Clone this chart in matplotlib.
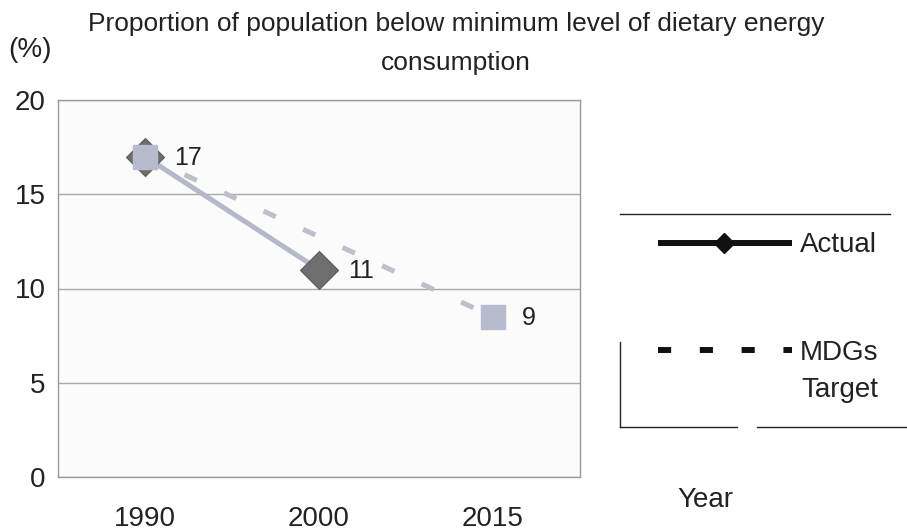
import matplotlib
matplotlib.use("Agg")
import matplotlib.pyplot as plt
from matplotlib.lines import Line2D

# Proportion of population below minimum level of dietary energy consumption (%)
years = ["1990", "2000", "2015"]
actual_years = ["1990", "2000"]
actual_vals = [17, 11]
target_years = ["1990", "2015"]
target_vals = [17, 8.5]

plt.rcParams["font.family"] = ["Liberation Sans", "DejaVu Sans"]

W, H = 907, 532
fig = plt.figure(figsize=(W / 100, H / 100), dpi=100)
fig.patch.set_facecolor("white")


def fx(px):
    return px / W


def fy(py):
    return 1 - py / H


ax = fig.add_axes([fx(58), fy(477), fx(580) - fx(58), fy(100) - fy(477)])
ax.set_facecolor("#fbfbfb")

xa = [years.index(y) for y in actual_years]
xt = [years.index(y) for y in target_years]

# actual series: light line, dark diamonds
ax.plot(xa, actual_vals, color="#b4b8c9", lw=3.6, solid_capstyle="butt", zorder=3)
ax.plot(xa, actual_vals, ls="none", marker="D", ms=19, mfc="#6e6e6e", mec="#5a5a5a",
        mew=0.8, zorder=4)

# MDGs target: dashed line with square markers
ax.plot(xt, target_vals, color="#bdbfc9", lw=3.6, dashes=(2.7, 6), zorder=3)
ax.plot(xt, target_vals, ls="none", marker="s", ms=17.5, mfc="#b7bbcd", mec="#b7bbcd",
        zorder=5)

for x, v in zip(xa, actual_vals):
    ax.annotate(f"{int(v + 0.5)}", (x, v), xytext=(21, -1), textcoords="offset points",
                ha="left", va="center", fontsize=18, color="#222222", zorder=6)
ax.annotate(f"{int(target_vals[-1] + 0.5)}", (xt[-1], target_vals[-1]), xytext=(21, -1),
            textcoords="offset points", ha="left", va="center", fontsize=18,
            color="#222222", zorder=6)

ax.set_xlim(-0.5, 2.5)
ax.set_ylim(0, 20)
ax.set_xticks(range(len(years)))
ax.set_xticklabels(years)
ax.set_yticks([0, 5, 10, 15, 20])
ax.tick_params(axis="both", length=0, labelsize=20, colors="#222222")
ax.tick_params(axis="x", pad=21)
ax.tick_params(axis="y", pad=9)
ax.yaxis.grid(True, color="#a9a9a9", lw=1)
ax.set_axisbelow(True)
for s in ax.spines.values():
    s.set_color("#9a9a9a")
    s.set_linewidth(1)

# titles
fig.text(fx(456), fy(12), "Proportion of population below minimum level of dietary energy\nconsumption",
         ha="center", va="top", fontsize=19, linespacing=1.8, color="#222222")
fig.text(fx(8), fy(50), "(%)", ha="left", va="center", fontsize=20, color="#222222")
fig.text(fx(677), fy(500), "Year", ha="left", va="center", fontsize=20, color="#222222")

# legend box
for xs, ys in [((620, 890), (214, 214)), ((620, 620), (342, 427)),
               ((620, 737), (427, 427)), ((757, 907), (427, 427))]:
    fig.add_artist(Line2D([fx(v) for v in xs], [fy(v) for v in ys], color="#222222", lw=1))

fig.add_artist(Line2D([fx(658), fx(792)], [fy(243), fy(243)], color="#111111", lw=4.3,
                      solid_capstyle="butt"))
fig.add_artist(Line2D([fx(724)], [fy(243)], ls="none", marker="D", ms=10, mfc="#111111",
                      mec="#111111"))
fig.add_artist(Line2D([fx(658), fx(792)], [fy(350), fy(350)], color="#111111", lw=4.3,
                      dashes=(2.2, 4.8)))
fig.text(fx(800), fy(245), "Actual", ha="left", va="center", fontsize=20, color="#222222")
fig.text(fx(839), fy(353), "MDGs", ha="center", va="center", fontsize=20, color="#222222")
fig.text(fx(840), fy(390), "Target", ha="center", va="center", fontsize=20, color="#222222")

fig.savefig("out.png", dpi=100)
